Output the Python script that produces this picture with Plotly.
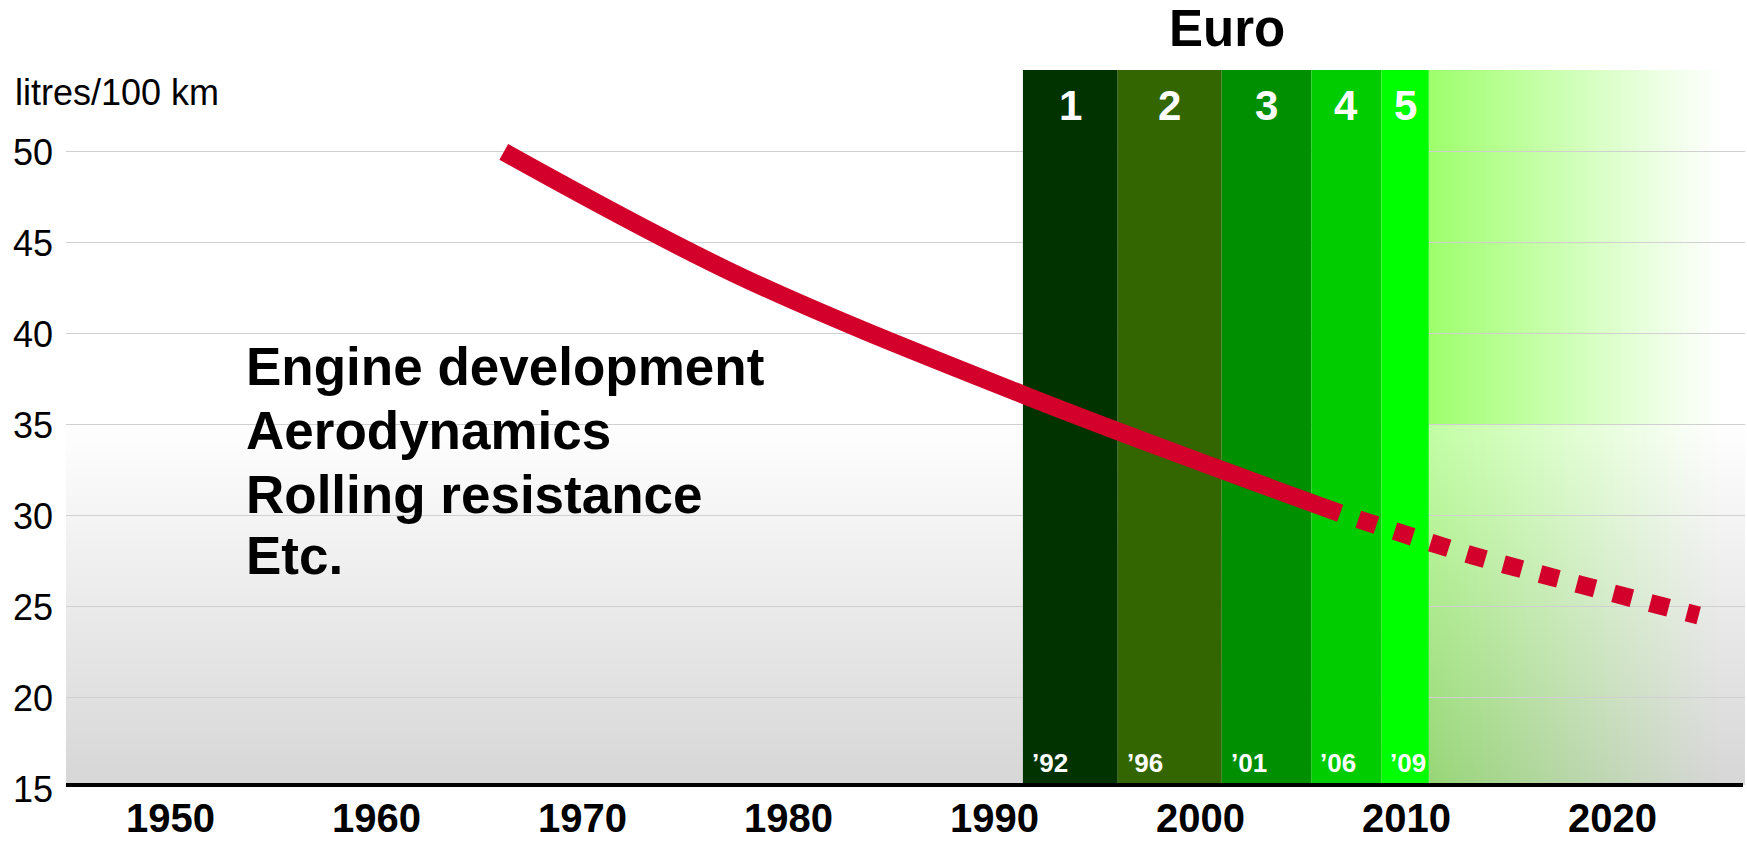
import base64
import struct
import zlib

import numpy as np
import plotly.graph_objects as go

# --- data ---
YEARS_SOLID = [1966.2, 1977.7, 1991.4, 2001.0, 2006.8]
FUEL_SOLID = [50.0, 43.15, 36.67, 32.55, 30.15]
YEARS_FORECAST = [2006.8, 2013.2, 2018.45, 2024.2]
FUEL_FORECAST = [30.15, 27.84, 26.23, 24.53]

EURO_STAGES = ["1", "2", "3", "4", "5"]
EURO_YEARS = ["\u201992", "\u201996", "\u201901", "\u201906", "\u201909"]
EURO_START = [1991.4, 1996.0, 2001.05, 2005.4, 2008.8]
EURO_END = [1996.0, 2001.05, 2005.4, 2008.8, 2011.1]
EURO_COLORS = ["#003300", "#336600", "#008f00", "#00cc00", "#00ff00"]
FUTURE_START = 2011.1

MEASURES = ["Engine development", "Aerodynamics", "Rolling resistance", "Etc."]
MEASURE_Y = [38.2, 34.69, 31.17, 27.82]

X_TICKS = [1950, 1960, 1970, 1980, 1990, 2000, 2010, 2020]
Y_TICKS = [15, 20, 25, 30, 35, 40, 45, 50]

X_RANGE = [1944.95, 2026.45]
Y_RANGE = [15, 54.5]
GRADIENT_TOP = 35
BASELINE = 15.22

FONT = "Liberation Sans, Arial, sans-serif"
RED = "#d2002b"


def png_uri(rgb):
    """encode an HxWx3 uint8 array as a png data uri"""
    rgb = np.clip(rgb, 0, 255).astype(np.uint8)
    h, w, _ = rgb.shape
    raw = b"".join(b"\x00" + rgb[r].tobytes() for r in range(h))

    def chunk(tag, data):
        c = struct.pack(">I", len(data)) + tag + data
        return c + struct.pack(">I", zlib.crc32(tag + data) & 0xFFFFFFFF)

    png = b"\x89PNG\r\n\x1a\n"
    png += chunk(b"IHDR", struct.pack(">IIBBBBB", w, h, 8, 2, 0, 0, 0))
    png += chunk(b"IDAT", zlib.compress(raw))
    png += chunk(b"IEND", b"")
    return "data:image/png;base64," + base64.b64encode(png).decode()


# grey floor gradient (lower part of the plot)
v = np.linspace(0, 1, 120)[:, None]
grey = 255 - 40 * v
floor = np.repeat(grey[:, :, None], 3, axis=2).repeat(2, axis=1)

# green "future" fade
u = np.linspace(0, 1, 240)[None, :]
alpha = np.clip(1 - u / 0.93, 0, 1) ** 1.1
g_top = np.array([158, 255, 108])
top_img = 255 + (g_top - 255) * alpha[:, :, None]
top_img = np.repeat(top_img, 2, axis=0)

g_hi = np.array([195, 255, 165])
g_lo = np.array([152, 214, 120])
left_col = g_hi + (g_lo - g_hi) * v[:, :, None]
bg_col = np.repeat(grey[:, :, None], 3, axis=2)
bot_img = bg_col + (left_col - bg_col) * alpha[:, :, None]

fig = go.Figure()

# euro bands
for i in range(len(EURO_STAGES)):
    fig.add_trace(go.Bar(
        x=[(EURO_START[i] + EURO_END[i]) / 2],
        y=[Y_RANGE[1] - BASELINE],
        base=BASELINE,
        width=EURO_END[i] - EURO_START[i],
        marker=dict(color=EURO_COLORS[i], line=dict(width=0)),
        hoverinfo="skip",
    ))

# consumption curve
fig.add_trace(go.Scatter(
    x=YEARS_SOLID, y=FUEL_SOLID, mode="lines",
    line=dict(color=RED, width=18, shape="spline"),
    hoverinfo="skip",
))
fig.add_trace(go.Scatter(
    x=YEARS_FORECAST, y=FUEL_FORECAST, mode="lines",
    line=dict(color=RED, width=18, shape="spline", dash="0px,19px,19px,0px"),
    hoverinfo="skip",
))

images = [
    dict(source=png_uri(floor), xref="x", yref="y", x=X_RANGE[0], y=GRADIENT_TOP,
         sizex=X_RANGE[1] - X_RANGE[0], sizey=GRADIENT_TOP - BASELINE,
         xanchor="left", yanchor="top", sizing="stretch", layer="below"),
    dict(source=png_uri(top_img), xref="x", yref="y", x=FUTURE_START, y=Y_RANGE[1],
         sizex=X_RANGE[1] - FUTURE_START, sizey=Y_RANGE[1] - GRADIENT_TOP,
         xanchor="left", yanchor="top", sizing="stretch", layer="below"),
    dict(source=png_uri(bot_img), xref="x", yref="y", x=FUTURE_START, y=GRADIENT_TOP,
         sizex=X_RANGE[1] - FUTURE_START, sizey=GRADIENT_TOP - BASELINE,
         xanchor="left", yanchor="top", sizing="stretch", layer="below"),
]

annotations = []
for i in range(len(EURO_STAGES)):
    annotations.append(dict(
        x=(EURO_START[i] + EURO_END[i]) / 2, y=52.54, xref="x", yref="y",
        text=EURO_STAGES[i], showarrow=False,
        font=dict(family=FONT, size=42, color="white", weight="bold"),
    ))
    annotations.append(dict(
        x=EURO_START[i], y=16.45, xref="x", yref="y", xanchor="left", xshift=7,
        text=EURO_YEARS[i], showarrow=False,
        font=dict(family=FONT, size=26, color="white", weight="bold"),
    ))

for label, yy in zip(MEASURES, MEASURE_Y):
    annotations.append(dict(
        x=1953.6, y=yy, xref="x", yref="y", xanchor="left",
        text=label, showarrow=False,
        font=dict(family=FONT, size=53, color="black", weight="bold"),
    ))

# year labels under the axis
for yr in X_TICKS:
    annotations.append(dict(
        x=yr, y=-0.0408, xref="x", yref="paper", yanchor="middle",
        text=str(yr), showarrow=False,
        font=dict(family=FONT, size=40, color="black", weight="bold"),
    ))

annotations.append(dict(
    x=2001.3, y=1.0584, xref="x", yref="paper", yanchor="middle",
    text="Euro", showarrow=False,
    font=dict(family=FONT, size=51, color="black", weight="bold"),
))
annotations.append(dict(
    x=-0.0316, y=0.969, xref="paper", yref="paper", xanchor="left", yanchor="middle",
    text="litres/100 km", showarrow=False,
    font=dict(family=FONT, size=36, color="black"),
))

shapes = [
    dict(type="line", xref="paper", yref="y", x0=0, x1=0.9988,
         y0=BASELINE, y1=BASELINE, line=dict(color="black", width=4), layer="above"),
]

fig.update_layout(
    width=1747, height=841, autosize=False,
    margin=dict(l=66, r=2, t=70, b=52),
    plot_bgcolor="white", paper_bgcolor="white",
    showlegend=False, barmode="overlay",
    images=images, annotations=annotations, shapes=shapes,
    xaxis=dict(
        range=X_RANGE, showgrid=False, zeroline=False, showline=False,
        ticks="", showticklabels=False, automargin=False,
    ),
    yaxis=dict(
        range=Y_RANGE, tickvals=Y_TICKS, showgrid=True, gridcolor="#d0d0d0",
        gridwidth=1, zeroline=False, ticks="", ticklabelstandoff=12,
        automargin=False,
        tickfont=dict(family=FONT, size=36, color="black"),
    ),
)

fig.write_html(
    "out.html",
    config=dict(displayModeBar=False),
    post_script="document.body.style.margin='0px';document.body.style.overflow='hidden';",
)
